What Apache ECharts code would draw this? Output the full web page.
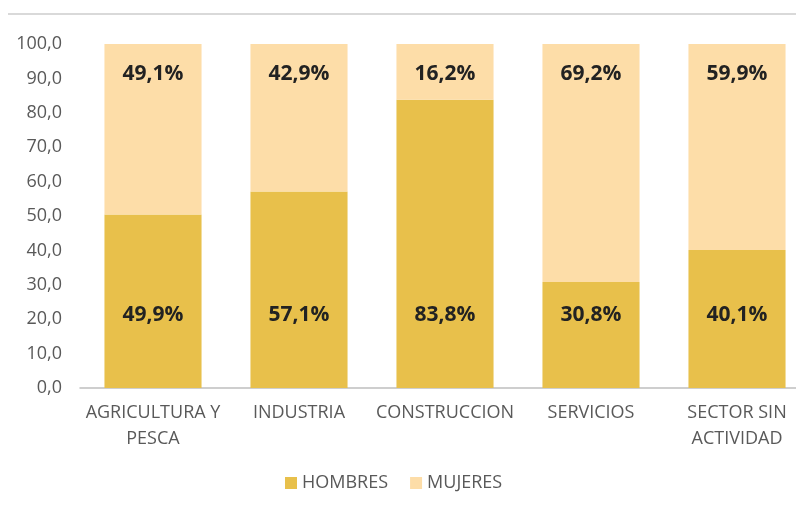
<!DOCTYPE html>
<html>
<head>
<meta charset="utf-8">
<script src="https://cdn.jsdelivr.net/npm/echarts@6/dist/echarts.min.js"></script>
<style>
  html, body { margin: 0; padding: 0; background: #fff; overflow: hidden; }
  #chart { width: 812px; height: 508px; }
</style>
</head>
<body>
<div id="chart"></div>
<script>
// datos
const sectores = ['AGRICULTURA Y\nPESCA', 'INDUSTRIA', 'CONSTRUCCION', 'SERVICIOS', 'SECTOR SIN\nACTIVIDAD']
const hombres = [49.9, 57.1, 83.8, 30.8, 40.1]
const mujeres = [49.1, 42.9, 16.2, 69.2, 59.9]
const yTicks = [0, 10, 20, 30, 40, 50, 60, 70, 80, 90, 100]

const colorHombres = '#E8C04B'
const colorMujeres = '#FDDDA8'
const fuente = '"Open Sans", "Noto Sans", sans-serif'

// barras 100% apiladas, como en Excel
const pct = (arr, i) => arr[i] / (hombres[i] + mujeres[i]) * 100
const fmt = (v) => v.toFixed(1).replace('.', ',') + '%'

const chart = echarts.init(document.getElementById('chart'))
const option = {
  animation: false,
  textStyle: { fontFamily: fuente },
  graphic: [
    {
      type: 'line',
      shape: { x1: 8, y1: 14, x2: 812, y2: 14 },
      style: { stroke: '#D9D9D9', lineWidth: 2 },
    },
  ],
  legend: {
    data: ['HOMBRES', 'MUJERES'],
    bottom: 11,
    left: 280,
    itemWidth: 12,
    itemHeight: 12,
    itemGap: 22,
    icon: 'rect',
    textStyle: { color: '#595959', fontSize: 18, fontFamily: fuente },
  },
  grid: {
    left: 80,
    top: 44,
    right: 2,
    height: 344,
    containLabel: false,
  },
  xAxis: {
    type: 'category',
    data: sectores,
    axisTick: { show: false },
    axisLine: { lineStyle: { color: '#BFBFBF', width: 1.5 } },
    axisLabel: {
      color: '#595959',
      fontSize: 18,
      lineHeight: 26,
      margin: 12,
      interval: 0,
      fontFamily: fuente,
    },
  },
  yAxis: {
    type: 'value',
    min: yTicks[0],
    max: yTicks[yTicks.length - 1],
    interval: 10,
    splitLine: { show: false },
    axisLine: { show: false },
    axisTick: { show: false },
    axisLabel: {
      color: '#595959',
      fontSize: 18,
      margin: 18,
      fontFamily: fuente,
      formatter: (v) => v.toFixed(1).replace('.', ','),
    },
  },
  series: [
    {
      name: 'HOMBRES',
      type: 'bar',
      stack: 'total',
      barCategoryGap: '33.5%',
      itemStyle: { color: colorHombres },
      data: hombres.map((v, i) => ({ value: pct(hombres, i), raw: v })),
      label: {
        show: true,
        position: 'insideBottom',
        distance: 62,
        color: '#222',
        fontSize: 21,
        fontWeight: 'bold',
        fontFamily: fuente,
        formatter: (p) => fmt(hombres[p.dataIndex]),
      },
    },
    {
      name: 'MUJERES',
      type: 'bar',
      stack: 'total',
      itemStyle: { color: colorMujeres },
      data: mujeres.map((v, i) => ({ value: pct(mujeres, i), raw: v })),
      label: {
        show: true,
        position: 'insideTop',
        distance: 20,
        color: '#222',
        fontSize: 21,
        fontWeight: 'bold',
        fontFamily: fuente,
        formatter: (p) => fmt(mujeres[p.dataIndex]),
      },
    },
  ],
}
chart.setOption(option)
</script>
</body>
</html>
